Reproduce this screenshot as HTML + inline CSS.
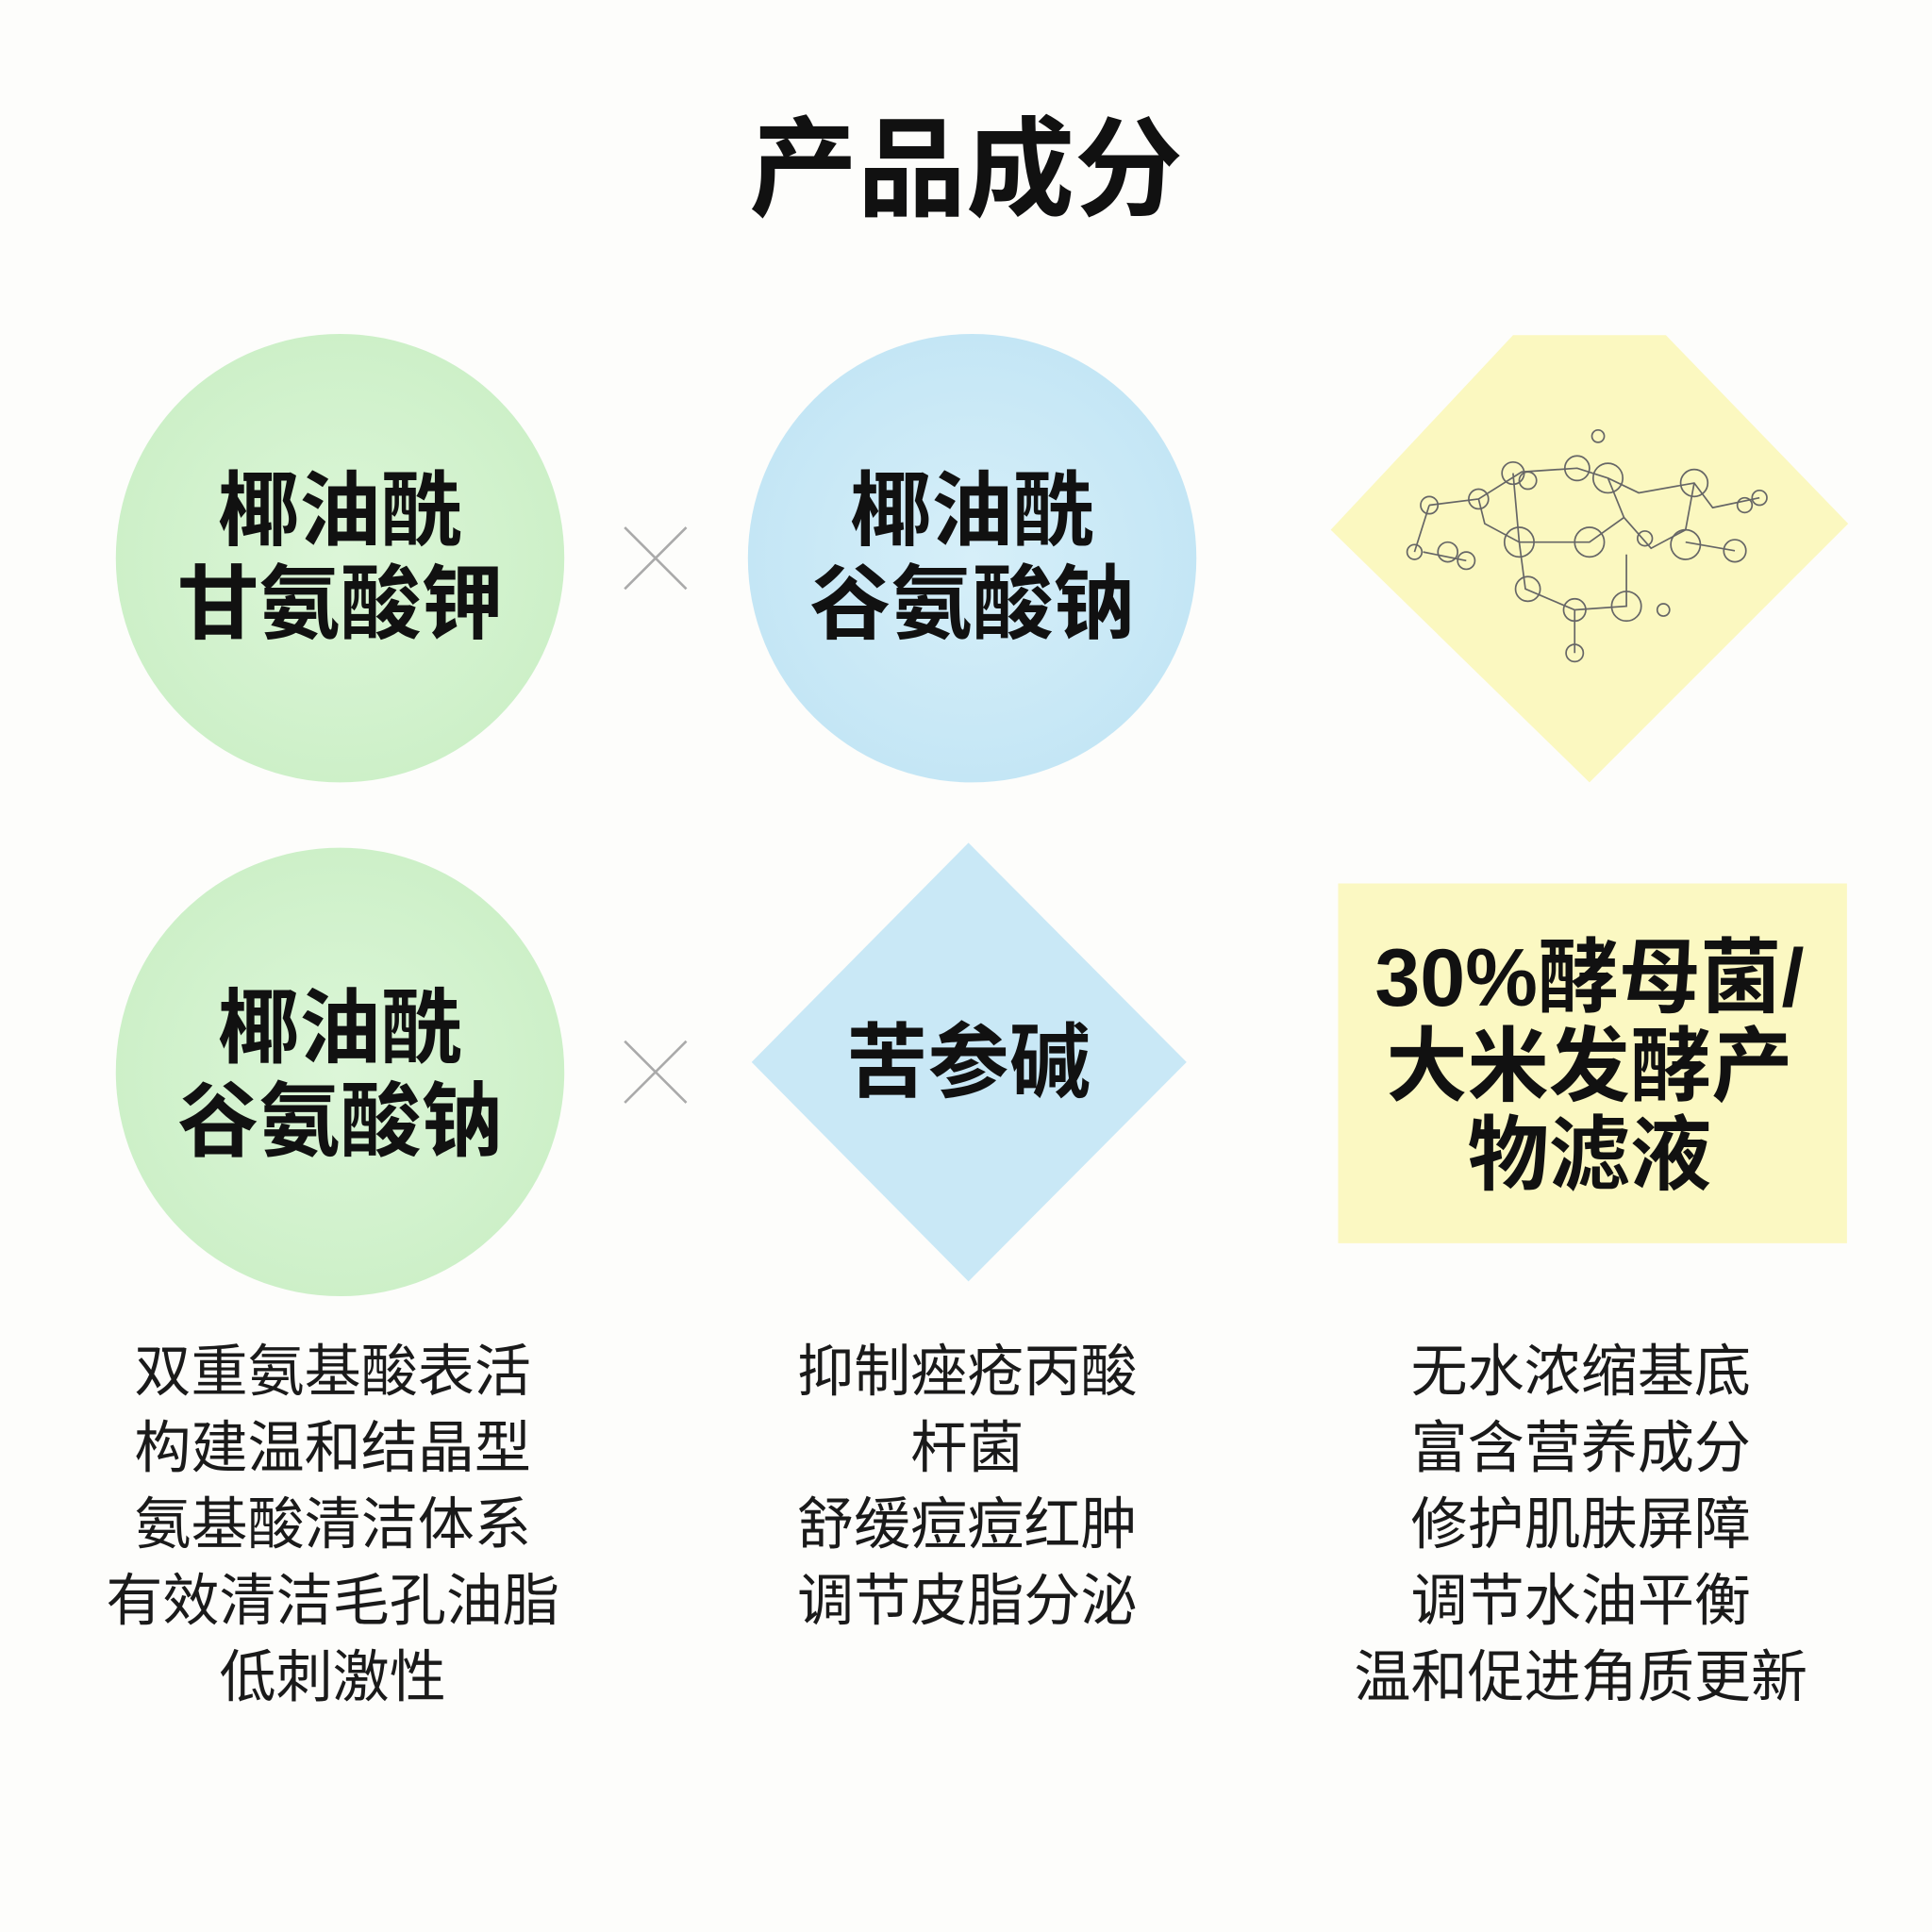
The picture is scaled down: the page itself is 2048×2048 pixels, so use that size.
<!DOCTYPE html>
<html><head><meta charset="utf-8"><style>
html,body{margin:0;padding:0;background:#fdfdfb;}
#w{width:1568px;height:1568px;transform:scale(1.306122);transform-origin:0 0;position:relative;font-family:"Liberation Sans","Noto Sans CJK SC",sans-serif;color:#111;}
.t{position:absolute;text-align:center;white-space:nowrap;}
.b{font-weight:700;font-size:66px;line-height:76px;}
.d{font-size:46px;line-height:62px;font-weight:400;color:#1a1a1a;}
</style></head><body><div id="w">
<svg width="1568" height="1568" style="position:absolute;left:0;top:0">
<defs>
<radialGradient id="g" cx="50%" cy="50%" r="50%"><stop offset="0" stop-color="#dcf6d8"/><stop offset="1" stop-color="#cdf0c8"/></radialGradient>
<radialGradient id="bl" cx="50%" cy="50%" r="50%"><stop offset="0" stop-color="#d6eff9"/><stop offset="1" stop-color="#c4e6f5"/></radialGradient>
</defs>
<circle cx="276" cy="453" r="182" fill="url(#g)"/>
<circle cx="789" cy="453" r="182" fill="url(#bl)"/>
<circle cx="276" cy="870" r="182" fill="url(#g)"/>
<polygon points="1228,272 1352,272 1500,425 1290,635 1080,430" fill="#fbf8c0"/>
<polygon points="786,684 963,862 786,1040 610,862" fill="#c9e8f6"/>
<rect x="1086" y="717" width="413" height="292" fill="#fbf8c2"/>
<g stroke="#aaa" stroke-width="2"><line x1="507" y1="428" x2="557" y2="478"/><line x1="557" y1="428" x2="507" y2="478"/><line x1="507" y1="845" x2="557" y2="895"/><line x1="557" y1="845" x2="507" y2="895"/></g>
<g stroke="#666" stroke-width="1.3" fill="none">
<path d="M1160,410 L1200,405 L1235,383 L1280,380 L1305,388 L1330,400 L1375,392 L1390,412 L1428,404 M1200,405 L1205,425 L1233,440 L1290,440 L1318,420 L1340,445 L1368,430 L1375,392 M1233,440 L1238,478 L1278,495 L1320,492 L1320,450 M1368,440 L1408,447 M1278,495 L1278,530 M1160,410 L1148,448 M1155,448 L1190,455 M1228,384 L1233,440 M1305,388 L1318,420"/>
<circle cx="1160" cy="410" r="7"/><circle cx="1200" cy="405" r="8"/><circle cx="1228" cy="384" r="9"/><circle cx="1240" cy="390" r="7"/><circle cx="1280" cy="380" r="10"/><circle cx="1305" cy="388" r="12"/><circle cx="1297" cy="354" r="5"/><circle cx="1375" cy="392" r="11"/><circle cx="1416" cy="410" r="6"/><circle cx="1428" cy="404" r="6"/>
<circle cx="1148" cy="448" r="6"/><circle cx="1175" cy="448" r="8"/><circle cx="1190" cy="455" r="7"/><circle cx="1233" cy="440" r="12"/><circle cx="1290" cy="440" r="12"/><circle cx="1335" cy="437" r="6"/><circle cx="1368" cy="442" r="12"/><circle cx="1408" cy="447" r="9"/>
<circle cx="1240" cy="478" r="10"/><circle cx="1278" cy="495" r="9"/><circle cx="1320" cy="492" r="12"/><circle cx="1350" cy="495" r="5"/><circle cx="1278" cy="530" r="7"/>
</g>
</svg>
<div class="t" style="left:0;width:1568px;top:88px;font-size:88px;font-weight:700;line-height:100px;">产品成分</div>
<div class="t b" style="left:76px;width:400px;top:376px;">椰油酰<br>甘氨酸钾</div>
<div class="t b" style="left:589px;width:400px;top:376px;">椰油酰<br>谷氨酸钠</div>
<div class="t b" style="left:76px;width:400px;top:796px;">椰油酰<br>谷氨酸钠</div>
<div class="t b" style="left:586px;width:400px;top:824px;">苦参碱</div>
<div class="t b" style="left:1090px;width:400px;top:757px;line-height:72px;">30%酵母菌/<br>大米发酵产<br>物滤液</div>
<div class="t d" style="left:70px;width:400px;top:1082px;">双重氨基酸表活<br>构建温和结晶型<br>氨基酸清洁体系<br>有效清洁毛孔油脂<br>低刺激性</div>
<div class="t d" style="left:585px;width:400px;top:1082px;">抑制痤疮丙酸<br>杆菌<br>舒缓痘痘红肿<br>调节皮脂分泌</div>
<div class="t d" style="left:1083px;width:400px;top:1082px;">无水浓缩基底<br>富含营养成分<br>修护肌肤屏障<br>调节水油平衡<br>温和促进角质更新</div>
</div></body></html>
